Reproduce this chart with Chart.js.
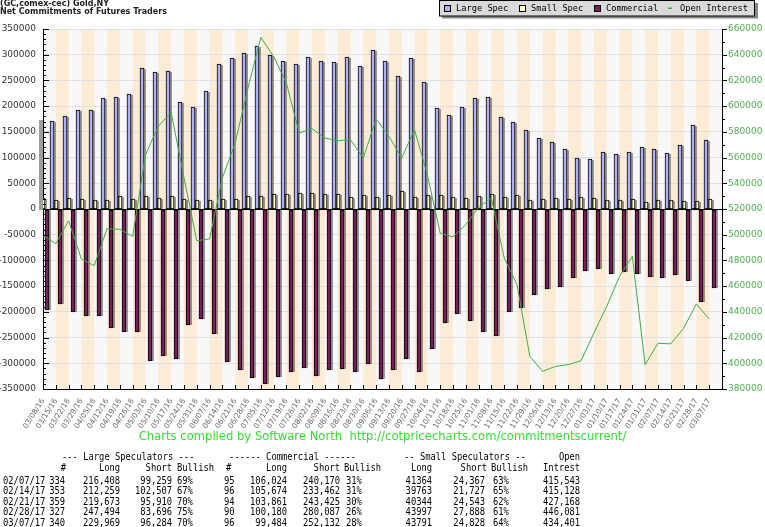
<!DOCTYPE html>
<html><head><meta charset="utf-8">
<script src="https://cdn.jsdelivr.net/npm/chart.js@4.4.1/dist/chart.umd.min.js"></script>
<style>
html,body{margin:0;padding:0;background:#fff;}
#wrap{position:relative;width:765px;height:527px;overflow:hidden;background:#fff;}
canvas{position:absolute;left:0;top:0;}
.t{position:absolute;white-space:pre;font-family:"DejaVu Sans Mono",monospace;font-size:10px;line-height:10px;color:#000;transform:scaleX(0.88);}
.ttl{position:absolute;left:0;white-space:pre;font-family:"DejaVu Sans",sans-serif;font-weight:bold;font-size:8px;line-height:8px;color:#222;}
#foot{position:absolute;left:0;width:765px;top:429px;text-align:center;white-space:pre;font-family:"DejaVu Sans",sans-serif;font-size:11.6px;line-height:15px;color:#33dd33;}
</style></head><body>
<div id="wrap">
<canvas id="c" width="765" height="527"></canvas>
<div class="ttl" style="top:-0.5px">(GC,comex-cec) Gold,NY</div>
<div class="ttl" style="top:8px">Net Commitments of Futures Traders</div>
<div id="foot">Charts compiled by Software North  http://cotpricecharts.com/commitmentscurrent/</div>
</div>
<script>
const weeks = ["03/08/16","03/15/16","03/22/16","03/29/16","04/05/16","04/12/16","04/19/16","04/26/16","05/03/16","05/10/16","05/17/16","05/24/16","05/31/16","06/07/16","06/14/16","06/21/16","06/28/16","07/05/16","07/12/16","07/19/16","07/26/16","08/02/16","08/09/16","08/16/16","08/23/16","08/30/16","09/06/16","09/13/16","09/20/16","09/27/16","10/04/16","10/11/16","10/18/16","10/25/16","11/01/16","11/08/16","11/15/16","11/22/16","11/29/16","12/06/16","12/13/16","12/20/16","12/27/16","01/03/17","01/10/17","01/17/17","01/24/17","01/31/17","02/07/17","02/14/17","02/21/17","02/28/17","03/07/17"];

const largeSpec = [175500,170300,180800,191700,191700,215000,218300,222800,273300,266300,268200,208000,198300,229400,281100,294100,303800,317500,299400,287700,281900,295500,287700,285800,295500,278000,309100,287700,257800,294100,247500,196300,182000,198300,216400,218300,178800,168400,153600,137300,130200,115900,99100,97200,110800,106900,110800,120500,117149,109752,123763,163798,133685];

const smallSpec = [21400,16800,21400,20000,18100,18100,25300,20000,25300,21400,25300,20000,18100,16800,20000,20000,25300,25300,28400,29700,31100,31100,28400,28400,23300,27200,23300,26400,35000,23300,26400,26400,23300,21400,25300,29700,23300,26400,16800,20000,21400,20000,23300,21400,16800,16800,18700,13600,16997,18036,15801,16109,18963];

const commercial = [-195800,-185400,-201000,-208800,-207400,-232100,-239900,-239900,-296300,-286500,-291600,-225500,-213800,-243800,-298200,-313000,-328000,-341000,-326600,-316300,-309900,-324600,-313000,-311800,-317600,-302100,-330500,-313000,-291600,-316300,-271600,-222400,-203500,-218500,-239900,-246900,-201000,-192500,-167200,-156300,-151000,-134900,-121300,-117400,-126400,-123200,-126400,-133000,-134146,-127788,-139564,-179907,-152648];

const openInterest = [499500,493000,510900,481100,475900,504700,504200,498700,562200,584300,595400,544600,495300,496700,544100,571300,614100,653500,638700,618000,579100,582500,575200,573100,573900,559700,590000,576500,559700,581700,546700,501300,498200,507800,521200,528600,481900,461100,405400,393700,397600,398900,402000,423500,444200,467600,483100,398900,415543,415128,427168,446081,434401];

const leftTicks = [350000,300000,250000,200000,150000,100000,50000,0,-50000,-100000,-150000,-200000,-250000,-300000,-350000];
const rightTicks = [660000,640000,620000,600000,580000,560000,540000,520000,500000,480000,460000,440000,420000,400000,380000];

const tblDates = ["02/07/17","02/14/17","02/21/17","02/28/17","03/07/17"];
const lsTraders = [334,353,359,327,340];
const lsLong = [216408,212259,219673,247494,229969];
const lsShort = [99259,102507,95910,83696,96284];
const lsBull = [69,67,70,75,70];
const cmTraders = [95,96,94,90,96];
const cmLong = [106024,105674,103861,100180,99484];
const cmShort = [240170,233462,243425,280087,252132];
const cmBull = [31,31,30,26,28];
const ssLong = [41364,39763,40344,43997,43791];
const ssShort = [24367,21727,24543,27888,24828];
const ssBull = [63,65,62,61,64];
const openInt = [415543,415128,427168,446081,434401];

// ---- table (real text) ----
const wrap = document.getElementById('wrap');
function put(text, x, y, align){
  const d = document.createElement('div');
  d.className = 't';
  d.textContent = text;
  if (align === 'r'){ d.style.right = (765 - x) + 'px'; d.style.transformOrigin = 'right center'; }
  else { d.style.left = x + 'px'; d.style.transformOrigin = 'left center'; }
  d.style.top = (y - 5) + 'px';
  wrap.appendChild(d);
}
const fmt = n => n.toLocaleString('en-US');
put('--- Large Speculators ---', 62, 457, 'l');
put('------ Commercial ------', 229, 457, 'l');
put('-- Small Speculators --', 404, 457, 'l');
put('Open', 580, 457, 'r');
put('#', 66, 468, 'r'); put('Long', 120, 468, 'r'); put('Short', 172.5, 468, 'r'); put('Bullish', 177, 468, 'l');
put('#', 226, 468, 'l'); put('Long', 287.5, 468, 'r'); put('Short', 340, 468, 'r'); put('Bullish', 344, 468, 'l');
put('Long', 432.5, 468, 'r'); put('Short', 487.5, 468, 'r'); put('Bullish', 491, 468, 'l');
put('Intrest', 580, 468, 'r');
tblDates.forEach((d, i) => {
  const y = 481 + i * 10.4;
  put(d, 3, y, 'l');
  put(String(lsTraders[i]), 65.5, y, 'r');
  put(fmt(lsLong[i]), 120, y, 'r');
  put(fmt(lsShort[i]), 172.5, y, 'r');
  put(lsBull[i] + '%', 176.5, y, 'l');
  put(String(cmTraders[i]), 223.5, y, 'l');
  put(fmt(cmLong[i]), 287.5, y, 'r');
  put(fmt(cmShort[i]), 340, y, 'r');
  put(cmBull[i] + '%', 345.5, y, 'l');
  put(String(ssLong[i]), 432.5, y, 'r');
  put(fmt(ssShort[i]), 485, y, 'r');
  put(ssBull[i] + '%', 492.5, y, 'l');
  put(fmt(openInt[i]), 580, y, 'r');
});

// ---- plugins ----
const bandPlugin = {
  id: 'bands',
  beforeDraw(chart){
    const {ctx, chartArea: a, scales: {x}} = chart;
    const n = chart.data.labels.length;
    const w = (a.right - a.left) / n;
    ctx.save();
    ctx.fillStyle = '#f8f8f8';
    ctx.fillRect(a.left, a.top, a.right - a.left, a.bottom - a.top);
    ctx.fillStyle = '#fcebd5';
    for (let i = 1; i < n; i += 2){
      const cx = x.getPixelForValue(i);
      ctx.fillRect(cx - w / 2, a.top, w, a.bottom - a.top);
    }
    ctx.restore();
  }
};

// snap library-computed bar rectangles onto the pixel grid so 1px borders stay crisp
const snapPlugin = {
  id: 'snapBars',
  afterDatasetsUpdate(chart){
    chart.data.datasets.forEach((d, i) => {
      const meta = chart.getDatasetMeta(i);
      if (meta.type !== 'bar') return;
      meta.data.forEach(el => {
        const w = Math.round(el.width);
        const l = Math.round(el.x - el.width / 2);
        el.width = w;
        el.x = l + w / 2;
        el.y = Math.round(el.y);
        el.base = Math.round(el.base);
      });
    });
  }
};

// shadow drawn behind each bar dataset from the library's own bar elements
const shadowPlugin = {
  id: 'barShadow',
  beforeDatasetDraw(chart, args){
    const meta = args.meta;
    if (meta.type !== 'bar') return;
    const ctx = chart.ctx;
    ctx.save();
    ctx.fillStyle = 'rgba(0,0,0,0.38)';
    meta.data.forEach(el => {
      const top = Math.min(el.y, el.base), bot = Math.max(el.y, el.base);
      ctx.fillRect(el.x - el.width / 2 + 2, top + (el.y < el.base ? 1 : 0), el.width, bot - top);
    });
    ctx.restore();
  }
};

const tickPlugin = {
  id: 'innerTicks',
  afterDatasetsDraw(chart){
    const {ctx, chartArea: a, scales: {x, y, y2}} = chart;
    const n = chart.data.labels.length;
    const w = (a.right - a.left) / n;
    ctx.save();
    ctx.strokeStyle = '#000';
    ctx.lineWidth = 1;
    ctx.beginPath();
    for (let i = 0; i <= n; i++){
      const px = Math.round(x.getPixelForValue(0) - w / 2 + i * w) + 0.5;
      ctx.moveTo(px, a.bottom); ctx.lineTo(px, a.bottom - 4);
    }
    for (let v = y.min; v <= y.max; v += 10000){
      const py = Math.round(y.getPixelForValue(v)) + 0.5;
      const len = (v % 50000 === 0) ? 6 : 3;
      ctx.moveTo(a.left, py); ctx.lineTo(a.left + len, py);
    }
    for (let v = y2.min; v <= y2.max; v += 10000){
      const py = Math.round(y2.getPixelForValue(v)) + 0.5;
      const len = (v % 20000 === 0) ? 5 : 3;
      ctx.moveTo(a.right, py); ctx.lineTo(a.right + len, py);
    }
    ctx.stroke();
    ctx.restore();
  }
};

const legendPlugin = {
  id: 'boxLegend',
  afterDraw(chart){
    const ctx = chart.ctx;
    const ds = chart.data.datasets;
    ctx.save();
    ctx.fillStyle = '#8a8a8a';
    ctx.fillRect(442, 3, 316, 15.5);
    ctx.fillStyle = '#dadada';
    ctx.fillRect(439.5, 0.5, 315, 15.5);
    ctx.strokeStyle = '#000';
    ctx.lineWidth = 1;
    ctx.strokeRect(439.5, 0.5, 315, 15.5);
    const xs = [444, 519, 594, 668];
    ctx.font = '8.7px "DejaVu Sans Mono", monospace';
    ctx.textBaseline = 'middle';
    ds.forEach((d, i) => {
      const x0 = xs[i];
      if (d.type === 'line'){
        ctx.fillStyle = d.borderColor;
        ctx.fillRect(x0, 7.5, 4, 1.5);
      } else {
        ctx.fillStyle = d.backgroundColor;
        ctx.fillRect(x0 + 0.5, 5.5, 6, 6);
        ctx.strokeStyle = '#000';
        ctx.strokeRect(x0 + 0.5, 5.5, 6, 6);
      }
      ctx.fillStyle = '#000';
      ctx.fillText(d.label, x0 + 12, 8.5);
    });
    ctx.restore();
  }
};

Chart.defaults.font.family = '"DejaVu Sans", sans-serif';

new Chart(document.getElementById('c'), {
  type: 'bar',
  data: {
    labels: weeks,
    datasets: [
      {label: 'Large Spec', data: largeSpec, backgroundColor: '#b0b0f2', borderColor: '#000', borderWidth: 1, borderSkipped: false, order: 1, xAxisID: 'x', yAxisID: 'y'},
      {label: 'Small Spec', data: smallSpec, backgroundColor: '#ffffc4', borderColor: '#000', borderWidth: 1, borderSkipped: false, order: 1, xAxisID: 'x', yAxisID: 'y'},
      {label: 'Commercial', data: commercial, backgroundColor: '#7a1d5c', borderColor: '#000', borderWidth: 1, borderSkipped: false, order: 1, xAxisID: 'x', yAxisID: 'y'},
      {type: 'line', label: 'Open Interest', data: openInterest.map((v, i) => ({x: i, y: v})), xAxisID: 'xl', yAxisID: 'y2', borderColor: '#40ad40', borderWidth: 1, pointRadius: 0, tension: 0, order: 0}
    ]
  },
  options: {
    responsive: false,
    animation: false,
    layout: {padding: {top: 29, left: 0, right: 0, bottom: 0}},
    plugins: {legend: {display: false}, tooltip: {enabled: false}, title: {display: false}},
    datasets: {bar: {barThickness: 4}},
    scales: {
      x: {
        type: 'category', offset: true,
        grid: {display: false, drawTicks: false},
        border: {display: true, color: '#000'},
        ticks: {autoSkip: false, maxRotation: 58, minRotation: 58, labelOffset: -6.4, padding: 8, color: '#666', font: {size: 7.5}},
        afterFit(s){ s.height = 138; }
      },
      xl: {type: 'linear', display: false, offset: false, grid: {offset: false}, min: 0, max: weeks.length},
      y: {
        position: 'left', min: -350000, max: 350000,
        afterBuildTicks(s){ s.ticks = leftTicks.map(v => ({value: v})); },
        ticks: {color: '#333', font: {size: 9}, padding: 7, callback: v => String(v)},
        grid: {drawTicks: false, color: c => (c.tick && c.tick.value === 0) ? '#000' : '#e0e0e0', lineWidth: 1},
        border: {display: true, color: '#000'},
        afterFit(s){ s.width = 43; }
      },
      y2: {
        position: 'right', min: 380000, max: 660000,
        afterBuildTicks(s){ s.ticks = rightTicks.map(v => ({value: v})); },
        ticks: {color: '#4cb04c', font: {size: 9}, padding: 6, callback: v => String(v)},
        grid: {drawOnChartArea: false, drawTicks: false},
        border: {display: true, color: '#000'},
        afterFit(s){ s.width = 43; }
      }
    }
  },
  plugins: [bandPlugin, snapPlugin, shadowPlugin, tickPlugin, legendPlugin]
});
</script>
</body></html>
